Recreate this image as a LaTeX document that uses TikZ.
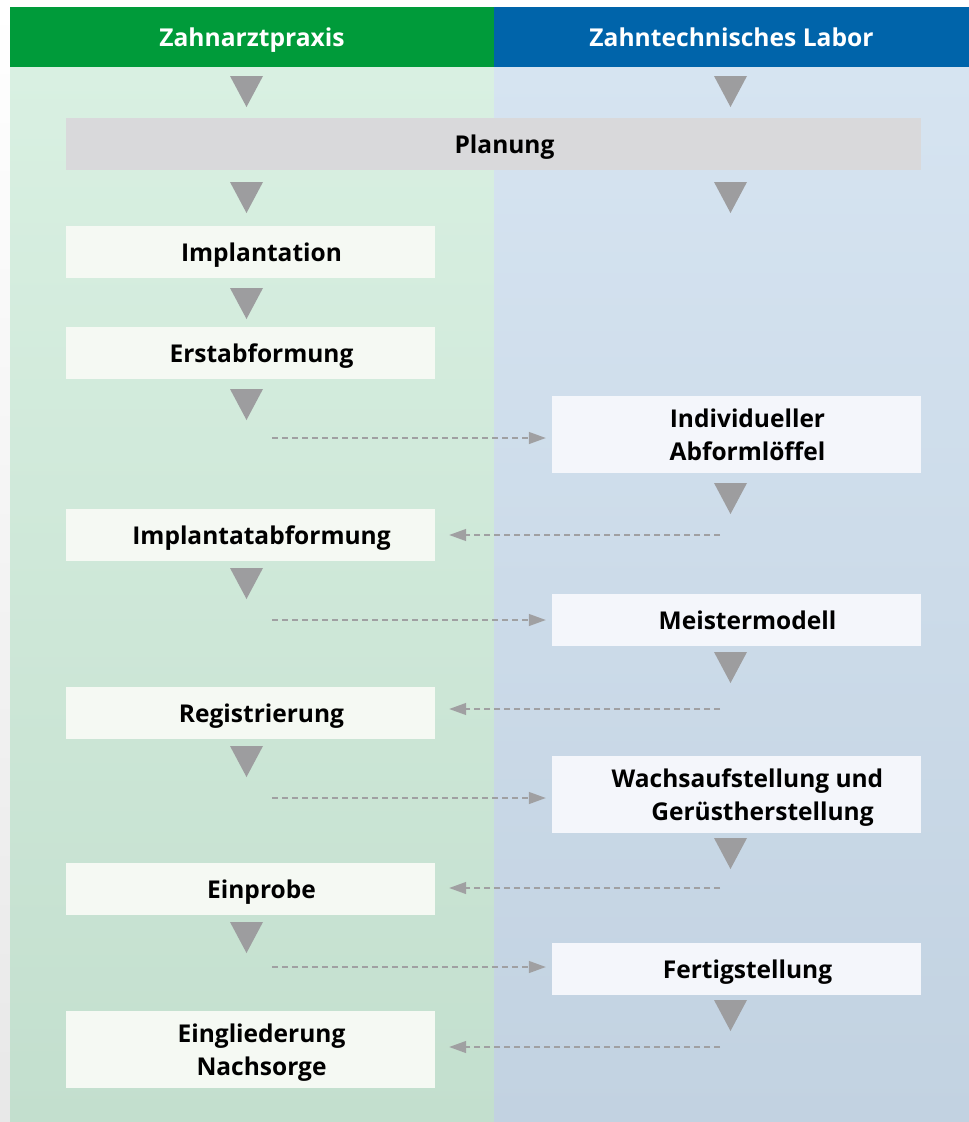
\documentclass[tikz,border=0pt]{standalone}
\usepackage{fontspec}
\setmainfont{Open Sans}
\usetikzlibrary{arrows.meta,positioning,calc}
\definecolor{praxgreen}{HTML}{009B3A}
\definecolor{laborblue}{HTML}{0064AA}
\definecolor{greentop}{HTML}{D9F0E2}
\definecolor{greenbot}{HTML}{C3DFCE}
\definecolor{bluetop}{HTML}{D6E4F1}
\definecolor{bluebot}{HTML}{C2D2E1}
\definecolor{boxgreen}{HTML}{F5F9F3}
\definecolor{boxblue}{HTML}{F4F6FB}
\definecolor{plangray}{HTML}{D9D9DB}
\definecolor{trigray}{HTML}{9D9D9F}
\definecolor{dashgray}{HTML}{A0A0A2}
\newcommand{\steptext}[1]{\hspace*{22pt}\raisebox{-3pt}[\height][\depth]{\begin{tabular}{@{}c@{}}#1\end{tabular}}}
\tikzset{
  >={Triangle[length=17pt,width=12pt]},
  hdr/.style={text=white, inner sep=0pt, minimum height=60pt, text height=24.5pt, text depth=5pt,
    font=\bfseries\fontsize{24.6}{30}\selectfont},
  box/.style={inner sep=0pt, minimum width=369pt, minimum height=52pt, font=\bfseries\fontsize{24.5}{33}\selectfont},
  pbox/.style={box, fill=boxgreen},
  lbox/.style={box, fill=boxblue},
  tallbox/.style={minimum height=77pt},
  tri/.style={fill=trigray},
  handover/.style={dashgray, line width=1.3pt, dash pattern=on 6pt off 4pt, ->},
}

\begin{document}
\begin{tikzpicture}[x=1pt, y=-1pt]
  \useasboundingbox (0,0) rectangle (969,1122);
  % background
  \shade[top color=white, bottom color=black!9] (0,0) rectangle (10,1122);
  \shade[top color=greentop, bottom color=greenbot] (10,67) rectangle (494,1122);
  \shade[top color=bluetop, bottom color=bluebot] (494,67) rectangle (969,1122);

  \node[hdr, fill=praxgreen, minimum width=484pt] (praxis) at (252,37) {Zahnarztpraxis};
  \node[hdr, fill=laborblue, minimum width=475pt] (labor) at (731.5,37) {Zahntechnisches Labor};

  \node[box, fill=plangray, minimum width=855pt] (plan) at (493.5,144) {\steptext{Planung}};

  \node[pbox] (impl) at (250.5,252) {\steptext{Implantation}};
  \node[pbox] (erst) at (250.5,353) {\steptext{Erstabformung}};
  \node[lbox, tallbox] (loeffel) at (736.5,434.5) {\steptext{Individueller\\Abformlöffel}};
  \node[pbox] (implab) at (250.5,535) {\steptext{Implantatabformung}};
  \node[lbox] (meister) at (736.5,619.5) {\steptext{Meistermodell}};
  \node[pbox] (regis) at (250.5,713) {\steptext{Registrierung}};
  \node[lbox, tallbox] (wachs) at (736.5,794.5) {\steptext{Wachsaufstellung und\\\hspace*{30pt}Gerüstherstellung}};
  \node[pbox] (einpr) at (250.5,888.5) {\steptext{Einprobe}};
  \node[lbox] (fertig) at (736.5,969) {\steptext{Fertigstellung}};
  \node[pbox, tallbox] (eingl) at (250.5,1049) {\steptext{Eingliederung\\Nachsorge}};

  % step triangles
  \foreach \y in {76,182,288,389,568,746,922}
    \fill[tri] (230,\y) -- (263,\y) -- (246.5,\y+31) -- cycle;
  \foreach \y in {76,182,483,652,838,1000}
    \fill[tri] (714,\y) -- (747,\y) -- (730.5,\y+31) -- cycle;

  % hand-over arrows
  \coordinate (a1) at (272,438);
  \coordinate (a2) at (720,535);
  \coordinate (a3) at (272,620);
  \coordinate (a4) at (720,709);
  \coordinate (a5) at (272,798);
  \coordinate (a6) at (720,888);
  \coordinate (a7) at (272,967);
  \coordinate (a8) at (720,1047);
  \draw[handover, shorten >=6pt] (a1) -- (a1 -| loeffel.west);
  \draw[handover, shorten >=14pt] (a2) -- (a2 -| implab.east);
  \draw[handover, shorten >=6pt] (a3) -- (a3 -| meister.west);
  \draw[handover, shorten >=14pt] (a4) -- (a4 -| regis.east);
  \draw[handover, shorten >=6pt] (a5) -- (a5 -| wachs.west);
  \draw[handover, shorten >=14pt] (a6) -- (a6 -| einpr.east);
  \draw[handover, shorten >=6pt] (a7) -- (a7 -| fertig.west);
  \draw[handover, shorten >=14pt] (a8) -- (a8 -| eingl.east);
\end{tikzpicture}
\end{document}
